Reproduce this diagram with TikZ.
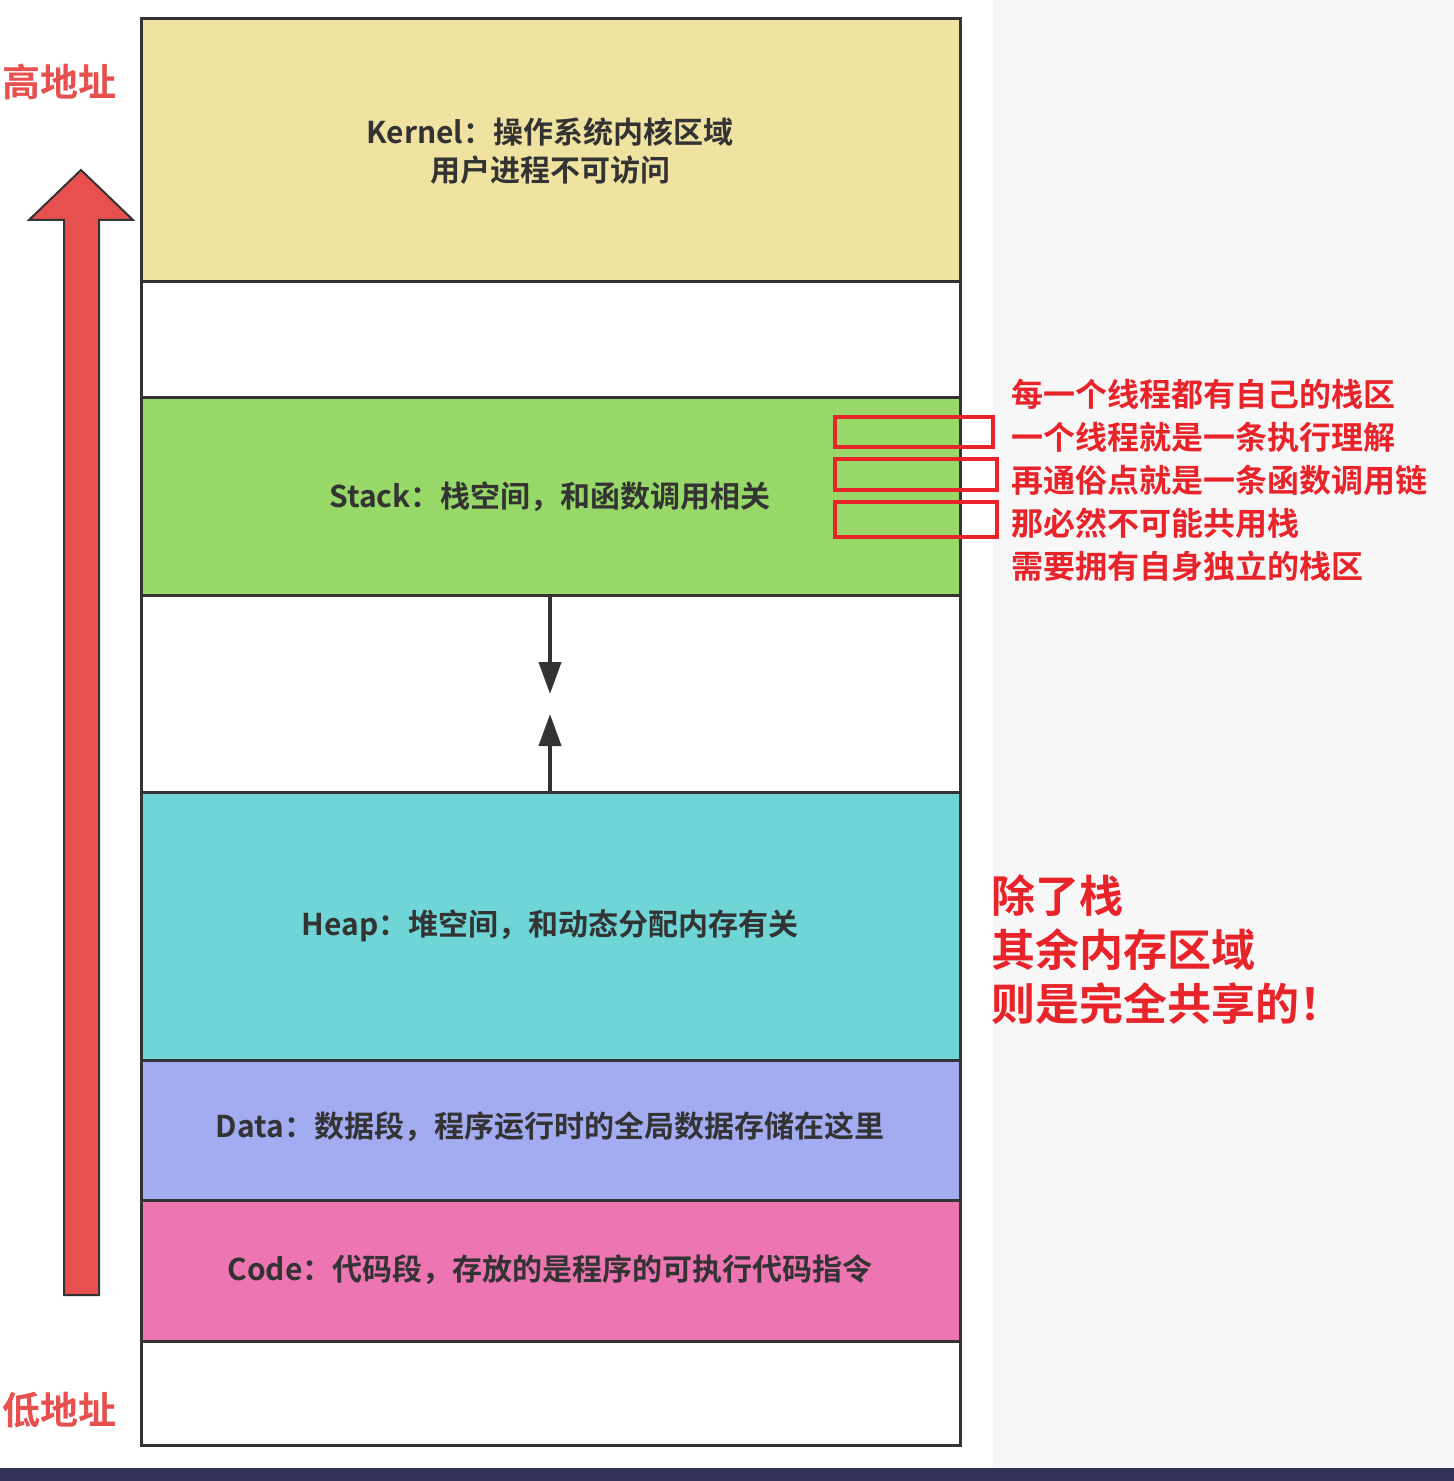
\documentclass[tikz,border=0pt]{standalone}
\usepackage{fontspec}
\setmainfont{Noto Sans CJK SC Bold}
\usetikzlibrary{positioning,arrows.meta}
\definecolor{kernelc}{HTML}{F0E3A2}
\definecolor{stackc}{HTML}{97D869}
\definecolor{heapc}{HTML}{70D5D7}
\definecolor{datac}{HTML}{A3ABF1}
\definecolor{codec}{HTML}{EC75B2}
\definecolor{redc}{HTML}{E8242A}
\definecolor{arrc}{HTML}{E85050}
\definecolor{txtc}{HTML}{333333}
\tikzset{
  seg/.style={draw=txtc,line width=1.5pt},
  boxtext/.style={font=\fontsize{15}{19}\selectfont,text=txtc,align=center},
  note/.style={font=\fontsize{16}{21.5}\selectfont,text=redc,align=left,anchor=north west},
  bignote/.style={font=\fontsize{22}{27}\selectfont,text=redc,align=left,anchor=north west},
  redmark/.style={draw=redc,line width=2pt},
  growarrow/.style={draw=txtc,line width=2pt,-{Triangle[length=16pt,width=11pt]}}
}
\begin{document}
\begin{tikzpicture}[x=0.5pt,y=-0.5pt]
\useasboundingbox (0,0) rectangle (1454,1481);
\fill[white] (0,0) rectangle (993,1468);
\fill[gray!6] (993,0) rectangle (1454,1468);
\fill[black!75!blue!60!gray] (0,1468) rectangle (1454,1481);
% segments
\filldraw[seg,fill=white] (141,19) rectangle (960,1445);
\filldraw[seg,fill=kernelc] (141,19) rectangle (960,282);
\filldraw[seg,fill=stackc] (141,397) rectangle (960,595);
\filldraw[seg,fill=heapc] (141,792) rectangle (960,1060);
\filldraw[seg,fill=datac] (141,1060) rectangle (960,1200);
\filldraw[seg,fill=codec] (141,1200) rectangle (960,1341);
\node[boxtext] (kernel) at (550,151) {Kernel：操作系统内核区域\\用户进程不可访问};
\node[boxtext] (stack) at (550,497) {Stack：栈空间，和函数调用相关};
\node[boxtext] (heap) at (550,926) {Heap：堆空间，和动态分配内存有关};
\node[boxtext] (data) at (550,1127) {Data：数据段，程序运行时的全局数据存储在这里};
\node[boxtext] (code) at (550,1270) {Code：代码段，存放的是程序的可执行代码指令};
% growth arrows
\coordinate (stackbot) at (550,595);
\coordinate (stackend) at (550,694);
\coordinate (heaptop) at (550,792);
\coordinate (heapend) at (550,714);
\draw[growarrow] (stackbot) -- (stackend);
\draw[growarrow] (heaptop) -- (heapend);
% address arrow
\filldraw[draw=txtc,line width=1pt,fill=arrc] (64,1295) -- (64,220) -- (29,220) -- (81,170) -- (133,220) -- (99,220) -- (99,1295) -- cycle;
\node[font=\fontsize{19}{23}\selectfont,text=arrc] (high) at (60,82) {高地址};
\node[font=\fontsize{19}{23}\selectfont,text=arrc] (low) at (60,1410) {低地址};
% marks
\draw[redmark] (835,417) rectangle (993,447);
\draw[redmark] (835,459) rectangle (997,490);
\draw[redmark] (835,502) rectangle (997,537);
\node[note] (thread) at (1004,372) {每一个线程都有自己的栈区\\一个线程就是一条执行理解\\再通俗点就是一条函数调用链\\那必然不可能共用栈\\需要拥有自身独立的栈区};
\node[bignote] (share) at (984,867) {除了栈\\其余内存区域\\则是完全共享的！};
\end{tikzpicture}
\end{document}
